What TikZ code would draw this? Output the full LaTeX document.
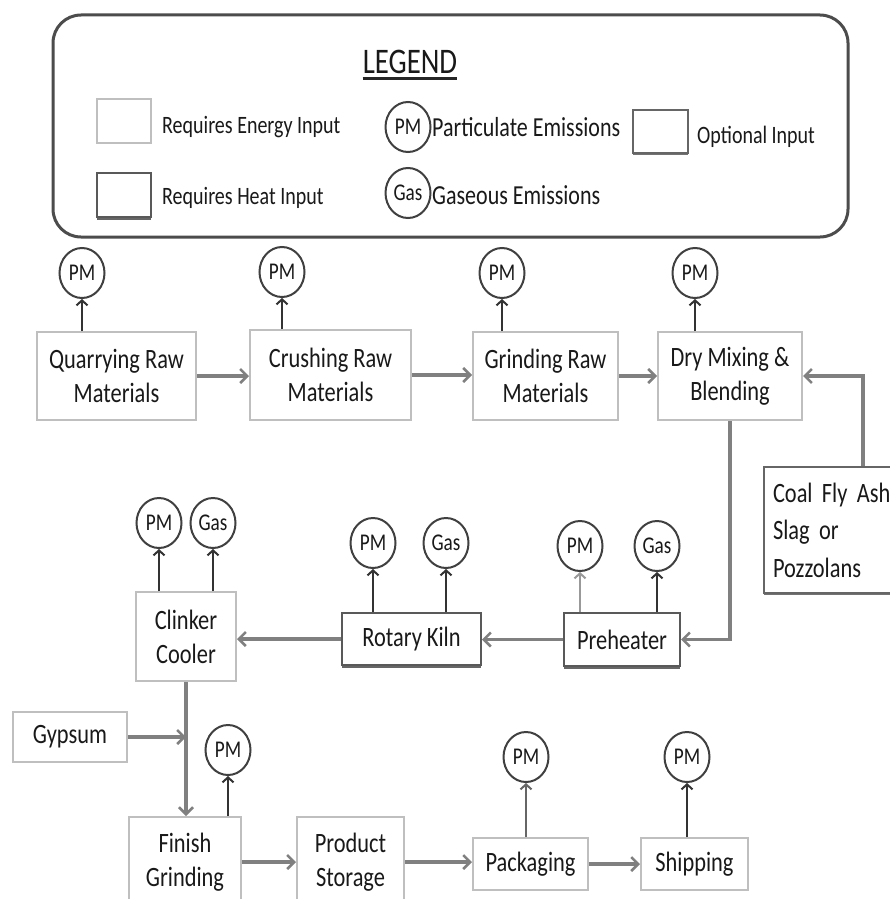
\documentclass[tikz,border=0pt]{standalone}
\usepackage{fontspec}
\setmainfont{Carlito}[FakeStretch=0.8]
\usetikzlibrary{arrows.meta,shapes.geometric,shadows}
\begin{document}
\begin{tikzpicture}[x=1pt,y=-1pt,
  every node/.style={text=black!90},
  txt/.style={font=\fontsize{28}{34}\selectfont, align=center},
  lt/.style={font=\fontsize{25}{30}\selectfont, inner sep=0pt},
  ltb/.style={font=\fontsize{27.5}{32}\selectfont, inner sep=0pt},
  energy/.style={draw=black!25, line width=2pt, fill=white, inner sep=0pt, txt},
  heat/.style={draw=black!65, line width=2pt, fill=white, inner sep=0pt, txt,
    drop shadow={shadow xshift=0pt, shadow yshift=-2.5pt, fill=black!60, opacity=1}},
  opt/.style={draw=black!60, line width=2pt, fill=white, inner sep=0pt, txt,
    drop shadow={shadow xshift=0pt, shadow yshift=-2pt, fill=black!55, opacity=1}},
  emis/.style={ellipse, draw=black!75, line width=2pt, fill=white, minimum width=45pt,
    minimum height=50pt, inner sep=0pt, font=\fontsize{24}{28}\selectfont},
  legbox/.style={draw=black!70, line width=3pt, rounded corners=28pt, minimum width=795pt, minimum height=222pt},
  flow/.style={draw=black!50, line width=3.5pt, -{Straight Barb[length=7pt,width=14pt,line width=2.5pt]}},
  emit/.style={draw=black!80, line width=2.5pt, -{Straight Barb[length=5pt,width=11pt,line width=2pt]}}
]
\clip (0,0) rectangle (890,899);
\fill[white] (0,0) rectangle (890,899);

% Legend
\node[legbox] (leg) at (450.5,126) {};
\node[font=\fontsize{36}{42}\selectfont, inner sep=0pt] (ttl) at (410,62) {LEGEND};
\draw[line width=2.5pt, black!85] ([yshift=-5pt]ttl.base west) -- ([yshift=-5pt]ttl.base east);
\node[energy, minimum width=54pt, minimum height=44pt] (lgE) at (124,121) {};
\node[lt, anchor=west] (lgEt) at (162,127) {Requires Energy Input};
\node[heat, minimum width=54pt, minimum height=44pt] (lgH) at (124,195) {};
\node[lt, anchor=west] (lgHt) at (162,198) {Requires Heat Input};
\node[emis] (lgP) at (408,127) {PM};
\node[ltb, anchor=west] (lgPt) at (432,127) {Particulate Emissions};
\node[emis] (lgG) at (408,193) {Gas};
\node[ltb, anchor=west] (lgGt) at (432,195) {Gaseous Emissions};
\node[opt, minimum width=55pt, minimum height=43pt] (lgO) at (660,131) {};
\node[lt, anchor=west] (lgOt) at (697,137) {Optional Input};

% Row 1
\node[energy, minimum width=159pt, minimum height=88pt] (q) at (116.5,376) {Quarrying Raw\\Materials};
\node[energy, minimum width=161pt, minimum height=90pt] (c) at (330.5,375) {Crushing Raw\\Materials};
\node[energy, minimum width=145pt, minimum height=88pt] (g) at (545.5,376) {Grinding Raw\\Materials};
\node[energy, minimum width=144pt, minimum height=88pt] (d) at (730,376) {Dry Mixing \&\\Blending};
\node[emis] (qP) at (82,273) {PM};
\node[emis] (cP) at (282,272) {PM};
\node[emis] (gP) at (502,273) {PM};
\node[emis] (dP) at (695,273) {PM};
\draw[emit] (q.north -| qP) -- (qP.south);
\draw[emit] (c.north -| cP) -- (cP.south);
\draw[emit] (g.north -| gP) -- (gP.south);
\draw[emit] (d.north -| dP) -- (dP.south);
\draw[flow] (q.east) -- (q.east -| c.west);
\draw[flow] (c.east) -- (c.east -| g.west);
\draw[flow] (g.east) -- (g.east -| d.west);

% Coal fly ash
\node[opt, minimum height=126pt, text width=130pt, inner xsep=9pt, align=left,
  font=\fontsize{28}{37.5}\selectfont] (co) at (838,530) {Coal Fly Ash\\Slag or\\Pozzolans};
\coordinate (cin) at ([xshift=25pt]co.north);
\draw[flow] (cin) |- (d.east);

% Row 2
\node[heat, minimum width=116pt, minimum height=53pt] (ph) at (622,639.5) {Preheater};
\node[heat, minimum width=139pt, minimum height=52pt] (rk) at (411.5,639) {Rotary Kiln};
\node[energy, minimum width=100pt, minimum height=89pt] (cc) at (186,636.5) {Clinker\\Cooler};
\draw[flow] (d.south) |- (ph.east);
\draw[flow] (ph.west) -- (ph.west -| rk.east);
\draw[flow] (rk.west) -- (rk.west -| cc.east);
\node[emis] (phP) at (580,546) {PM};
\node[emis] (phG) at (657,546) {Gas};
\node[emis] (rkP) at (373,543) {PM};
\node[emis] (rkG) at (446,543) {Gas};
\node[emis] (ccP) at (159,523) {PM};
\node[emis] (ccG) at (213,523) {Gas};
\draw[emit, draw=black!40, line width=2pt] (ph.north -| phP) -- (phP.south);
\draw[emit] (ph.north -| phG) -- (phG.south);
\draw[emit] (rk.north -| rkP) -- (rkP.south);
\draw[emit] (rk.north -| rkG) -- (rkG.south);
\draw[emit] (cc.north -| ccP) -- (ccP.south);
\draw[emit] (cc.north -| ccG) -- (ccG.south);

% Row 3
\node[energy, minimum width=114pt, minimum height=50pt] (gy) at (70,737) {Gypsum};
\node[energy, minimum width=112pt, minimum height=90pt] (fg) at (185,862) {Finish\\Grinding};
\node[energy, minimum width=107pt, minimum height=90pt] (ps) at (350.5,862) {Product\\Storage};
\node[energy, minimum width=115pt, minimum height=52pt] (pk) at (530.5,864) {Packaging};
\node[energy, minimum width=107pt, minimum height=52pt] (sh) at (694.5,864) {Shipping};
\draw[flow] (cc.south) -- (cc.south |- fg.north);
\draw[flow] (gy.east) -- (gy.east -| cc.south);
\draw[flow] (fg.east) -- (fg.east -| ps.west);
\draw[flow] (ps.east) -- (ps.east -| pk.west);
\draw[flow] (pk.east) -- (pk.east -| sh.west);
\node[emis] (fgP) at (228,750) {PM};
\node[emis] (pkP) at (526,757) {PM};
\node[emis] (shP) at (687,757) {PM};
\draw[emit] (fg.north -| fgP) -- (fgP.south);
\draw[emit, draw=black!60] (pk.north -| pkP) -- (pkP.south);
\draw[emit] (sh.north -| shP) -- (shP.south);
\end{tikzpicture}
\end{document}
